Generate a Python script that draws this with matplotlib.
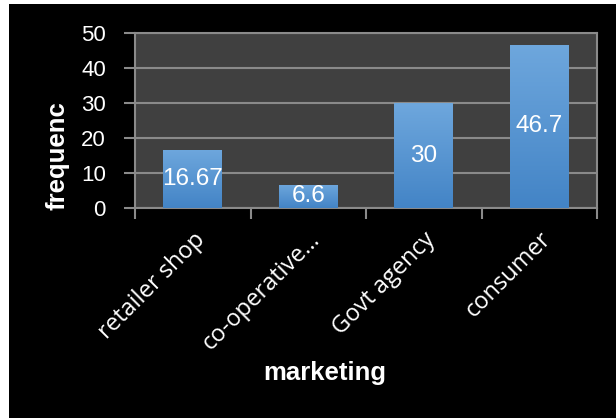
import matplotlib
matplotlib.use("Agg")
import matplotlib.pyplot as plt
import numpy as np
from matplotlib.patches import Rectangle
from matplotlib.colors import LinearSegmentedColormap

categories = ["retailer shop", "co-operative\u2026", "Govt agency", "consumer"]
frequency = [16.67, 6.6, 30, 46.7]
value_labels = ["16.67", "6.6", "30", "46.7"]
y_ticks = [0, 10, 20, 30, 40, 50]

W, H, DPI = 616, 418, 100
fig = plt.figure(figsize=(W / DPI, H / DPI), dpi=DPI)
fig.patch.set_facecolor("white")
fig.add_artist(Rectangle((9 / W, 0), 1, (H - 4) / H, transform=fig.transFigure,
                         facecolor="black", edgecolor="none", zorder=-10))

ax = fig.add_axes([135 / W, (H - 208) / H, (597 - 135) / W, (208 - 33.3) / H])
ax.set_facecolor("#404040")

grid_col = "#8a8a8a"
x = np.arange(len(categories))
bars = ax.bar(x, frequency, width=0.51, color="#4f8fd0", zorder=3)

# vertical gradient fill for each bar
grad = LinearSegmentedColormap.from_list("barfill", ["#4384c6", "#6ea7dd"])
gimg = np.linspace(0, 1, 256).reshape(-1, 1)
for b in bars:
    x0, y0 = b.get_x(), b.get_y()
    w, h = b.get_width(), b.get_height()
    im = ax.imshow(gimg, cmap=grad, origin="lower", aspect="auto",
                   extent=[x0, x0 + w, y0, y0 + h], zorder=4)
    im.set_clip_path(b)
    b.set_facecolor("none")

for xi, v, lab in zip(x, frequency, value_labels):
    ax.text(xi, v / 2, lab, ha="center", va="center", color="white",
            fontsize=17.5, family="Liberation Sans", zorder=6)

ax.set_xlim(-0.5, len(categories) - 0.5)
ax.set_ylim(0, 50)
ax.set_yticks(y_ticks)
ax.set_yticklabels([str(t) for t in y_ticks], color="white", fontsize=16,
                   family="Liberation Sans")
ax.yaxis.grid(True, color=grid_col, linewidth=1.5, zorder=1)
ax.set_axisbelow(True)

# boundary ticks between categories, labels centred under each bar
ax.set_xticks(np.arange(-0.5, len(categories), 1.0))
ax.set_xticklabels([])
ax.set_xticks(x, minor=True)
ax.set_xticklabels(categories, minor=True, rotation=45, ha="right", va="top",
                   rotation_mode="anchor", color="white", fontsize=17,
                   family="Open Sans")
ax.tick_params(axis="x", which="major", direction="out", length=8,
               color=grid_col, width=1.5)
ax.tick_params(axis="x", which="minor", length=0, pad=14)
ax.tick_params(axis="y", direction="out", length=8, color=grid_col, width=1.5,
               pad=13)

for s in ax.spines.values():
    s.set_color(grid_col)
    s.set_linewidth(1.5)

fig.text(325 / W, 1 - 373 / H, "marketing", ha="center", va="center",
         color="white", fontsize=18.5, fontweight="bold", family="Liberation Sans")
fig.text(57 / W, 1 - 156 / H, "frequenc", ha="center", va="center",
         rotation=90, color="white", fontsize=18.5, fontweight="bold",
         family="Liberation Sans")

fig.savefig("out.png", dpi=DPI, facecolor=fig.get_facecolor())
